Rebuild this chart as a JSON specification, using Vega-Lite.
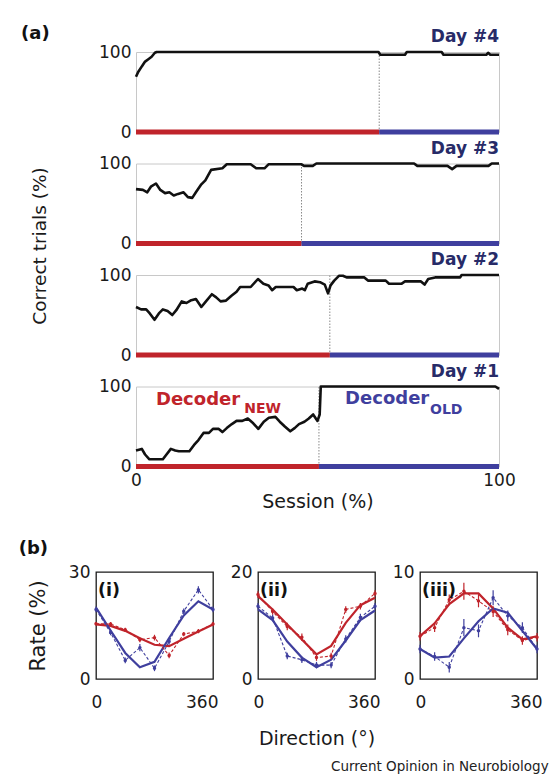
{
"$schema": "https://vega.github.io/schema/vega-lite/v6.json",
"padding": {"left": 18, "top": 24, "right": 0, "bottom": 0},
"background": "white",
"datasets": {
"acc": [
{"day":"Day #4","s":0,"v":69},{"day":"Day #4","s":0.6,"v":75},{"day":"Day #4","s":1.6,"v":82},{"day":"Day #4","s":2.5,"v":88},{"day":"Day #4","s":3.4,"v":91},{"day":"Day #4","s":4.3,"v":94},{"day":"Day #4","s":5.2,"v":99},{"day":"Day #4","s":5.7,"v":100},{"day":"Day #4","s":66.8,"v":100},{"day":"Day #4","s":67.3,"v":96.5},{"day":"Day #4","s":74.1,"v":96.5},{"day":"Day #4","s":74.6,"v":100},{"day":"Day #4","s":84.2,"v":100},{"day":"Day #4","s":84.7,"v":96.5},{"day":"Day #4","s":96.5,"v":96.5},{"day":"Day #4","s":97,"v":99},{"day":"Day #4","s":97.6,"v":96.5},{"day":"Day #4","s":100,"v":96.5},
{"day":"Day #3","s":0,"v":68},{"day":"Day #3","s":1.9,"v":67},{"day":"Day #3","s":3.1,"v":64},{"day":"Day #3","s":4.1,"v":71},{"day":"Day #3","s":5.5,"v":75},{"day":"Day #3","s":6.7,"v":67},{"day":"Day #3","s":8,"v":63},{"day":"Day #3","s":9.2,"v":64},{"day":"Day #3","s":10.4,"v":60},{"day":"Day #3","s":11.6,"v":62},{"day":"Day #3","s":13.1,"v":64},{"day":"Day #3","s":14.3,"v":58},{"day":"Day #3","s":15.5,"v":57},{"day":"Day #3","s":16.5,"v":64},{"day":"Day #3","s":18,"v":74},{"day":"Day #3","s":19.1,"v":79},{"day":"Day #3","s":20.7,"v":92},{"day":"Day #3","s":23.8,"v":94},{"day":"Day #3","s":25,"v":99},{"day":"Day #3","s":31.6,"v":99},{"day":"Day #3","s":33.1,"v":94},{"day":"Day #3","s":35.4,"v":94},{"day":"Day #3","s":36.5,"v":99},{"day":"Day #3","s":45.6,"v":99},{"day":"Day #3","s":46.3,"v":97},{"day":"Day #3","s":48.7,"v":97},{"day":"Day #3","s":49.7,"v":100},{"day":"Day #3","s":76.6,"v":100},{"day":"Day #3","s":77.5,"v":97},{"day":"Day #3","s":85.8,"v":97},{"day":"Day #3","s":87.1,"v":93},{"day":"Day #3","s":88.3,"v":97},{"day":"Day #3","s":97.1,"v":97},{"day":"Day #3","s":98,"v":100},{"day":"Day #3","s":100,"v":100},
{"day":"Day #2","s":0,"v":60},{"day":"Day #2","s":1.4,"v":57},{"day":"Day #2","s":2.8,"v":57},{"day":"Day #2","s":3.8,"v":52},{"day":"Day #2","s":5.1,"v":44},{"day":"Day #2","s":6.3,"v":52},{"day":"Day #2","s":7.4,"v":57},{"day":"Day #2","s":8.7,"v":55},{"day":"Day #2","s":10,"v":50},{"day":"Day #2","s":11.1,"v":56},{"day":"Day #2","s":12.6,"v":67},{"day":"Day #2","s":13.9,"v":65},{"day":"Day #2","s":15,"v":68},{"day":"Day #2","s":16.5,"v":70},{"day":"Day #2","s":18,"v":60},{"day":"Day #2","s":19.1,"v":66},{"day":"Day #2","s":20.9,"v":76},{"day":"Day #2","s":22.1,"v":72},{"day":"Day #2","s":23.3,"v":67},{"day":"Day #2","s":24.8,"v":68},{"day":"Day #2","s":26.3,"v":74},{"day":"Day #2","s":27.7,"v":79},{"day":"Day #2","s":28.7,"v":85},{"day":"Day #2","s":31.6,"v":85},{"day":"Day #2","s":33.6,"v":95},{"day":"Day #2","s":35.1,"v":89},{"day":"Day #2","s":36.5,"v":87},{"day":"Day #2","s":37.5,"v":81},{"day":"Day #2","s":38.5,"v":85},{"day":"Day #2","s":43.4,"v":85},{"day":"Day #2","s":44.3,"v":81},{"day":"Day #2","s":45.8,"v":83},{"day":"Day #2","s":46.5,"v":81},{"day":"Day #2","s":47.3,"v":89},{"day":"Day #2","s":49.2,"v":92},{"day":"Day #2","s":50.7,"v":91},{"day":"Day #2","s":52,"v":88},{"day":"Day #2","s":52.9,"v":77},{"day":"Day #2","s":53.6,"v":87},{"day":"Day #2","s":54.6,"v":93},{"day":"Day #2","s":55.9,"v":99},{"day":"Day #2","s":57,"v":99},{"day":"Day #2","s":58,"v":97},{"day":"Day #2","s":62.9,"v":97},{"day":"Day #2","s":63.9,"v":93},{"day":"Day #2","s":68.8,"v":93},{"day":"Day #2","s":69.7,"v":89},{"day":"Day #2","s":73.1,"v":89},{"day":"Day #2","s":74.1,"v":92},{"day":"Day #2","s":78.5,"v":92},{"day":"Day #2","s":79.5,"v":88},{"day":"Day #2","s":80.5,"v":95},{"day":"Day #2","s":82.4,"v":97},{"day":"Day #2","s":89.3,"v":97},{"day":"Day #2","s":89.7,"v":100},{"day":"Day #2","s":100,"v":100},
{"day":"Day #1","s":0,"v":20},{"day":"Day #1","s":1.6,"v":22},{"day":"Day #1","s":2.5,"v":15},{"day":"Day #1","s":3.7,"v":9},{"day":"Day #1","s":5.5,"v":9},{"day":"Day #1","s":7.4,"v":9},{"day":"Day #1","s":8.4,"v":15},{"day":"Day #1","s":9.6,"v":22},{"day":"Day #1","s":10.8,"v":20},{"day":"Day #1","s":11.8,"v":19},{"day":"Day #1","s":14.7,"v":19},{"day":"Day #1","s":16,"v":27},{"day":"Day #1","s":17.2,"v":33},{"day":"Day #1","s":18.6,"v":42},{"day":"Day #1","s":20.1,"v":42},{"day":"Day #1","s":21.2,"v":47},{"day":"Day #1","s":22.8,"v":47},{"day":"Day #1","s":23.8,"v":43},{"day":"Day #1","s":25,"v":48},{"day":"Day #1","s":26.4,"v":53},{"day":"Day #1","s":27.7,"v":57},{"day":"Day #1","s":29.3,"v":57},{"day":"Day #1","s":30.8,"v":60},{"day":"Day #1","s":32.3,"v":54},{"day":"Day #1","s":33.7,"v":47},{"day":"Day #1","s":35.2,"v":56},{"day":"Day #1","s":36.6,"v":61},{"day":"Day #1","s":38.4,"v":62},{"day":"Day #1","s":39.6,"v":56},{"day":"Day #1","s":41,"v":50},{"day":"Day #1","s":42.5,"v":44},{"day":"Day #1","s":43.7,"v":48},{"day":"Day #1","s":44.9,"v":53},{"day":"Day #1","s":46.4,"v":56},{"day":"Day #1","s":47.6,"v":60},{"day":"Day #1","s":48.8,"v":65},{"day":"Day #1","s":50,"v":57},{"day":"Day #1","s":50.6,"v":65},{"day":"Day #1","s":50.9,"v":100},{"day":"Day #1","s":99,"v":100},{"day":"Day #1","s":100,"v":97}
],
"seg": [
{"day":"Day #4","dec":"NEW","s":0,"s2":67},{"day":"Day #4","dec":"OLD","s":67,"s2":100},
{"day":"Day #3","dec":"NEW","s":0,"s2":45.6},{"day":"Day #3","dec":"OLD","s":45.6,"s2":100},
{"day":"Day #2","dec":"NEW","s":0,"s2":53.4},{"day":"Day #2","dec":"OLD","s":53.4,"s2":100},
{"day":"Day #1","dec":"NEW","s":0,"s2":50.4},{"day":"Day #1","dec":"OLD","s":50.4,"s2":100}
],
"sw": [
{"day":"Day #4","s":67},{"day":"Day #3","s":45.6},{"day":"Day #2","s":53.4},{"day":"Day #1","s":50.4}
],
"lab": [
{"dec":"NEW","word":"Decoder","wx":5.5,"wy":83,"sub":"NEW","sx":29.8,"sy":72},
{"dec":"OLD","word":"Decoder","wx":57.6,"wy":84.5,"sub":"OLD","sx":81,"sy":71}
],
"tune": [
{"panel":"i","kind":"fit","dec":"NEW","dir":0,"rate":15.3},{"panel":"i","kind":"fit","dec":"NEW","dir":45,"rate":14.9},{"panel":"i","kind":"fit","dec":"NEW","dir":90,"rate":13.5},{"panel":"i","kind":"fit","dec":"NEW","dir":135,"rate":11.4},{"panel":"i","kind":"fit","dec":"NEW","dir":180,"rate":9.6},{"panel":"i","kind":"fit","dec":"NEW","dir":225,"rate":9.2},{"panel":"i","kind":"fit","dec":"NEW","dir":270,"rate":11.3},{"panel":"i","kind":"fit","dec":"NEW","dir":315,"rate":13.3},{"panel":"i","kind":"fit","dec":"NEW","dir":360,"rate":15.3},
{"panel":"i","kind":"fit","dec":"OLD","dir":0,"rate":20},{"panel":"i","kind":"fit","dec":"OLD","dir":45,"rate":13.6},{"panel":"i","kind":"fit","dec":"OLD","dir":90,"rate":7.3},{"panel":"i","kind":"fit","dec":"OLD","dir":135,"rate":3.3},{"panel":"i","kind":"fit","dec":"OLD","dir":180,"rate":4.8},{"panel":"i","kind":"fit","dec":"OLD","dir":225,"rate":11.5},{"panel":"i","kind":"fit","dec":"OLD","dir":270,"rate":17.8},{"panel":"i","kind":"fit","dec":"OLD","dir":315,"rate":21.8},{"panel":"i","kind":"fit","dec":"OLD","dir":360,"rate":19.5},
{"panel":"i","kind":"data","dec":"NEW","dir":0,"rate":15.5,"lo":15,"hi":16},{"panel":"i","kind":"data","dec":"NEW","dir":45,"rate":15.4,"lo":14.8,"hi":16},{"panel":"i","kind":"data","dec":"NEW","dir":90,"rate":13.8,"lo":13.2,"hi":14.4},{"panel":"i","kind":"data","dec":"NEW","dir":135,"rate":11,"lo":10.3,"hi":11.7},{"panel":"i","kind":"data","dec":"NEW","dir":180,"rate":11.6,"lo":10.8,"hi":12.4},{"panel":"i","kind":"data","dec":"NEW","dir":225,"rate":6.6,"lo":5.8,"hi":7.4},{"panel":"i","kind":"data","dec":"NEW","dir":270,"rate":12.6,"lo":12,"hi":13.2},{"panel":"i","kind":"data","dec":"NEW","dir":315,"rate":13.4,"lo":12.8,"hi":14},{"panel":"i","kind":"data","dec":"NEW","dir":360,"rate":15.4,"lo":14.8,"hi":16},
{"panel":"i","kind":"data","dec":"OLD","dir":0,"rate":19.5,"lo":18.7,"hi":20.3},{"panel":"i","kind":"data","dec":"OLD","dir":45,"rate":13,"lo":12.3,"hi":13.7},{"panel":"i","kind":"data","dec":"OLD","dir":90,"rate":5.2,"lo":4.4,"hi":6},{"panel":"i","kind":"data","dec":"OLD","dir":135,"rate":8.8,"lo":7.8,"hi":9.8},{"panel":"i","kind":"data","dec":"OLD","dir":180,"rate":3,"lo":2.2,"hi":3.8},{"panel":"i","kind":"data","dec":"OLD","dir":225,"rate":10.5,"lo":9.6,"hi":11.4},{"panel":"i","kind":"data","dec":"OLD","dir":270,"rate":19,"lo":18.2,"hi":19.8},{"panel":"i","kind":"data","dec":"OLD","dir":315,"rate":25,"lo":24,"hi":26},{"panel":"i","kind":"data","dec":"OLD","dir":360,"rate":19.5,"lo":18.7,"hi":20.3},
{"panel":"ii","kind":"fit","dec":"NEW","dir":0,"rate":15.5},{"panel":"ii","kind":"fit","dec":"NEW","dir":45,"rate":13},{"panel":"ii","kind":"fit","dec":"NEW","dir":90,"rate":10.2},{"panel":"ii","kind":"fit","dec":"NEW","dir":135,"rate":7.4},{"panel":"ii","kind":"fit","dec":"NEW","dir":180,"rate":4.6},{"panel":"ii","kind":"fit","dec":"NEW","dir":225,"rate":6.2},{"panel":"ii","kind":"fit","dec":"NEW","dir":270,"rate":10.5},{"panel":"ii","kind":"fit","dec":"NEW","dir":315,"rate":13.8},{"panel":"ii","kind":"fit","dec":"NEW","dir":360,"rate":15.2},
{"panel":"ii","kind":"fit","dec":"OLD","dir":0,"rate":13},{"panel":"ii","kind":"fit","dec":"OLD","dir":45,"rate":11},{"panel":"ii","kind":"fit","dec":"OLD","dir":90,"rate":7},{"panel":"ii","kind":"fit","dec":"OLD","dir":135,"rate":4},{"panel":"ii","kind":"fit","dec":"OLD","dir":180,"rate":2.2},{"panel":"ii","kind":"fit","dec":"OLD","dir":225,"rate":3.6},{"panel":"ii","kind":"fit","dec":"OLD","dir":270,"rate":7.2},{"panel":"ii","kind":"fit","dec":"OLD","dir":315,"rate":11},{"panel":"ii","kind":"fit","dec":"OLD","dir":360,"rate":12.8},
{"panel":"ii","kind":"data","dec":"NEW","dir":0,"rate":15.8,"lo":15.2,"hi":16.4},{"panel":"ii","kind":"data","dec":"NEW","dir":45,"rate":12.6,"lo":12,"hi":13.2},{"panel":"ii","kind":"data","dec":"NEW","dir":90,"rate":9.8,"lo":9.1,"hi":10.5},{"panel":"ii","kind":"data","dec":"NEW","dir":135,"rate":7.8,"lo":7.1,"hi":8.5},{"panel":"ii","kind":"data","dec":"NEW","dir":180,"rate":4,"lo":3.4,"hi":4.6},{"panel":"ii","kind":"data","dec":"NEW","dir":225,"rate":4.3,"lo":3.7,"hi":4.9},{"panel":"ii","kind":"data","dec":"NEW","dir":270,"rate":13,"lo":12.4,"hi":13.6},{"panel":"ii","kind":"data","dec":"NEW","dir":315,"rate":13.6,"lo":13,"hi":14.2},{"panel":"ii","kind":"data","dec":"NEW","dir":360,"rate":16,"lo":15.4,"hi":16.6},
{"panel":"ii","kind":"data","dec":"OLD","dir":0,"rate":13.6,"lo":13,"hi":14.2},{"panel":"ii","kind":"data","dec":"OLD","dir":45,"rate":11.4,"lo":10.8,"hi":12},{"panel":"ii","kind":"data","dec":"OLD","dir":90,"rate":4.3,"lo":3.7,"hi":4.9},{"panel":"ii","kind":"data","dec":"OLD","dir":135,"rate":3.6,"lo":3,"hi":4.2},{"panel":"ii","kind":"data","dec":"OLD","dir":180,"rate":2.6,"lo":2,"hi":3.2},{"panel":"ii","kind":"data","dec":"OLD","dir":225,"rate":2.6,"lo":2,"hi":3.2},{"panel":"ii","kind":"data","dec":"OLD","dir":270,"rate":7.5,"lo":6.8,"hi":8.2},{"panel":"ii","kind":"data","dec":"OLD","dir":315,"rate":11.5,"lo":10.8,"hi":12.2},{"panel":"ii","kind":"data","dec":"OLD","dir":360,"rate":13.6,"lo":13,"hi":14.2},
{"panel":"iii","kind":"fit","dec":"NEW","dir":0,"rate":4},{"panel":"iii","kind":"fit","dec":"NEW","dir":45,"rate":5.2},{"panel":"iii","kind":"fit","dec":"NEW","dir":90,"rate":7},{"panel":"iii","kind":"fit","dec":"NEW","dir":135,"rate":8},{"panel":"iii","kind":"fit","dec":"NEW","dir":180,"rate":8},{"panel":"iii","kind":"fit","dec":"NEW","dir":225,"rate":6.6},{"panel":"iii","kind":"fit","dec":"NEW","dir":270,"rate":4.8},{"panel":"iii","kind":"fit","dec":"NEW","dir":315,"rate":3.7},{"panel":"iii","kind":"fit","dec":"NEW","dir":360,"rate":4},
{"panel":"iii","kind":"fit","dec":"OLD","dir":0,"rate":2.8},{"panel":"iii","kind":"fit","dec":"OLD","dir":45,"rate":2},{"panel":"iii","kind":"fit","dec":"OLD","dir":90,"rate":2.1},{"panel":"iii","kind":"fit","dec":"OLD","dir":135,"rate":3.8},{"panel":"iii","kind":"fit","dec":"OLD","dir":180,"rate":5.4},{"panel":"iii","kind":"fit","dec":"OLD","dir":225,"rate":6.6},{"panel":"iii","kind":"fit","dec":"OLD","dir":270,"rate":6.2},{"panel":"iii","kind":"fit","dec":"OLD","dir":315,"rate":4.5},{"panel":"iii","kind":"fit","dec":"OLD","dir":360,"rate":2.8},
{"panel":"iii","kind":"data","dec":"NEW","dir":0,"rate":4,"lo":3.6,"hi":4.4},{"panel":"iii","kind":"data","dec":"NEW","dir":45,"rate":4.8,"lo":4.4,"hi":5.2},{"panel":"iii","kind":"data","dec":"NEW","dir":90,"rate":7.4,"lo":6.9,"hi":7.9},{"panel":"iii","kind":"data","dec":"NEW","dir":135,"rate":8.2,"lo":7.4,"hi":9},{"panel":"iii","kind":"data","dec":"NEW","dir":180,"rate":7.3,"lo":6.7,"hi":7.9},{"panel":"iii","kind":"data","dec":"NEW","dir":225,"rate":6.3,"lo":5.8,"hi":6.8},{"panel":"iii","kind":"data","dec":"NEW","dir":270,"rate":4.6,"lo":4.1,"hi":5.1},{"panel":"iii","kind":"data","dec":"NEW","dir":315,"rate":3.6,"lo":3.2,"hi":4},{"panel":"iii","kind":"data","dec":"NEW","dir":360,"rate":3.9,"lo":3.5,"hi":4.3},
{"panel":"iii","kind":"data","dec":"OLD","dir":0,"rate":2.8,"lo":2.4,"hi":3.2},{"panel":"iii","kind":"data","dec":"OLD","dir":45,"rate":2.1,"lo":1.7,"hi":2.5},{"panel":"iii","kind":"data","dec":"OLD","dir":90,"rate":1.1,"lo":0.6,"hi":1.6},{"panel":"iii","kind":"data","dec":"OLD","dir":135,"rate":4.8,"lo":4,"hi":5.6},{"panel":"iii","kind":"data","dec":"OLD","dir":180,"rate":4.5,"lo":3.9,"hi":5.1},{"panel":"iii","kind":"data","dec":"OLD","dir":225,"rate":7.6,"lo":6.9,"hi":8.3},{"panel":"iii","kind":"data","dec":"OLD","dir":270,"rate":5.9,"lo":5.4,"hi":6.4},{"panel":"iii","kind":"data","dec":"OLD","dir":315,"rate":4.8,"lo":4.3,"hi":5.3},{"panel":"iii","kind":"data","dec":"OLD","dir":360,"rate":2.8,"lo":2.4,"hi":3.2}
]
},
"title": {"text": "Current Opinion in Neurobiology", "orient": "bottom", "anchor": "end", "frame": "bounds", "fontSize": 13.5, "fontWeight": "normal", "color": "#222222", "offset": 11, "dx": 6},
"spacing": 28,
"vconcat": [
{
"bounds": "flush",
"spacing": 39,
"hconcat": [
{"width": 1, "height": 1, "view": {"stroke": null}, "data": {"values": []}, "mark": "point", "encoding": {}},
{
"title": {"text": "(a)", "anchor": "start", "frame": "bounds", "fontSize": 18, "color": "#111111", "offset": -15, "dx": -9},
"bounds": "flush",
"spacing": 31.5,
"vconcat": [
{
"width": 363, "height": 80,
"title": {"text": "Day #4", "anchor": "end", "frame": "group", "fontSize": 17, "color": "#272b68", "offset": -3},
"layer": [
{"data": {"name": "sw"}, "transform": [{"filter": "datum.day === 'Day #4'"}], "mark": {"type": "rule", "strokeDash": [1.5, 1.5], "strokeWidth": 1, "color": "#8a8a8a"},
 "encoding": {"x": {"field": "s", "type": "quantitative", "scale": {"domain": [0, 100], "nice": false}, "axis": null},
  "y": {"datum": 0, "type": "quantitative", "scale": {"domain": [0, 100], "nice": false}, "axis": {"values": [0, 100], "title": null, "labelPadding": 5}},
  "y2": {"datum": 100}}},
{"data": {"name": "acc"}, "transform": [{"filter": "datum.day === 'Day #4'"}], "mark": {"type": "line", "color": "#111111", "strokeWidth": 2.6, "strokeJoin": "round"},
 "encoding": {"x": {"field": "s", "type": "quantitative", "axis": null}, "y": {"field": "v", "type": "quantitative", "title": null}}},
{"data": {"name": "seg"}, "transform": [{"filter": "datum.day === 'Day #4'"}], "mark": {"type": "rule", "strokeWidth": 5, "strokeCap": "butt"},
 "encoding": {"x": {"field": "s", "type": "quantitative", "axis": null}, "x2": {"field": "s2"}, "y": {"datum": 0, "type": "quantitative", "title": null},
  "color": {"field": "dec", "type": "nominal", "scale": {"domain": ["NEW", "OLD"], "range": ["#c0242b", "#3f3f9e"]}, "legend": null}}}
]
},
{
"width": 363, "height": 80,
"title": {"text": "Day #3", "anchor": "end", "frame": "group", "fontSize": 17, "color": "#272b68", "offset": -3},
"layer": [
{"data": {"name": "sw"}, "transform": [{"filter": "datum.day === 'Day #3'"}], "mark": {"type": "rule", "strokeDash": [1.5, 1.5], "strokeWidth": 1, "color": "#8a8a8a"},
 "encoding": {"x": {"field": "s", "type": "quantitative", "scale": {"domain": [0, 100], "nice": false}, "axis": null},
  "y": {"datum": 0, "type": "quantitative", "scale": {"domain": [0, 100], "nice": false}, "title": "Correct trials (%)", "axis": {"values": [0, 100], "labelPadding": 5, "titleFontSize": 18.5, "titlePadding": 49, "titleY": 82}},
  "y2": {"datum": 100}}},
{"data": {"name": "acc"}, "transform": [{"filter": "datum.day === 'Day #3'"}], "mark": {"type": "line", "color": "#111111", "strokeWidth": 2.6, "strokeJoin": "round"},
 "encoding": {"x": {"field": "s", "type": "quantitative", "axis": null}, "y": {"field": "v", "type": "quantitative", "title": "Correct trials (%)"}}},
{"data": {"name": "seg"}, "transform": [{"filter": "datum.day === 'Day #3'"}], "mark": {"type": "rule", "strokeWidth": 5, "strokeCap": "butt"},
 "encoding": {"x": {"field": "s", "type": "quantitative", "axis": null}, "x2": {"field": "s2"}, "y": {"datum": 0, "type": "quantitative", "title": "Correct trials (%)"},
  "color": {"field": "dec", "type": "nominal", "scale": {"domain": ["NEW", "OLD"], "range": ["#c0242b", "#3f3f9e"]}, "legend": null}}}
]
},
{
"width": 363, "height": 80,
"title": {"text": "Day #2", "anchor": "end", "frame": "group", "fontSize": 17, "color": "#272b68", "offset": -3},
"layer": [
{"data": {"name": "sw"}, "transform": [{"filter": "datum.day === 'Day #2'"}], "mark": {"type": "rule", "strokeDash": [1.5, 1.5], "strokeWidth": 1, "color": "#8a8a8a"},
 "encoding": {"x": {"field": "s", "type": "quantitative", "scale": {"domain": [0, 100], "nice": false}, "axis": null},
  "y": {"datum": 0, "type": "quantitative", "scale": {"domain": [0, 100], "nice": false}, "axis": {"values": [0, 100], "title": null, "labelPadding": 5}},
  "y2": {"datum": 100}}},
{"data": {"name": "acc"}, "transform": [{"filter": "datum.day === 'Day #2'"}], "mark": {"type": "line", "color": "#111111", "strokeWidth": 2.6, "strokeJoin": "round"},
 "encoding": {"x": {"field": "s", "type": "quantitative", "axis": null}, "y": {"field": "v", "type": "quantitative", "title": null}}},
{"data": {"name": "seg"}, "transform": [{"filter": "datum.day === 'Day #2'"}], "mark": {"type": "rule", "strokeWidth": 5, "strokeCap": "butt"},
 "encoding": {"x": {"field": "s", "type": "quantitative", "axis": null}, "x2": {"field": "s2"}, "y": {"datum": 0, "type": "quantitative", "title": null},
  "color": {"field": "dec", "type": "nominal", "scale": {"domain": ["NEW", "OLD"], "range": ["#c0242b", "#3f3f9e"]}, "legend": null}}}
]
},
{
"width": 363, "height": 80,
"title": {"text": "Day #1", "anchor": "end", "frame": "group", "fontSize": 17, "color": "#272b68", "offset": -3},
"layer": [
{"data": {"name": "sw"}, "transform": [{"filter": "datum.day === 'Day #1'"}], "mark": {"type": "rule", "strokeDash": [1.5, 1.5], "strokeWidth": 1, "color": "#8a8a8a"},
 "encoding": {"x": {"field": "s", "type": "quantitative", "scale": {"domain": [0, 100], "nice": false}, "title": "Session (%)", "axis": {"values": [0, 100], "labelPadding": 6, "titlePadding": 4, "titleFontSize": 19}},
  "y": {"datum": 0, "type": "quantitative", "scale": {"domain": [0, 100], "nice": false}, "axis": {"values": [0, 100], "title": null, "labelPadding": 5}},
  "y2": {"datum": 100}}},
{"data": {"name": "acc"}, "transform": [{"filter": "datum.day === 'Day #1'"}], "mark": {"type": "line", "color": "#111111", "strokeWidth": 2.6, "strokeJoin": "round"},
 "encoding": {"x": {"field": "s", "type": "quantitative", "title": "Session (%)"}, "y": {"field": "v", "type": "quantitative", "title": null}}},
{"data": {"name": "seg"}, "transform": [{"filter": "datum.day === 'Day #1'"}], "mark": {"type": "rule", "strokeWidth": 5, "strokeCap": "butt"},
 "encoding": {"x": {"field": "s", "type": "quantitative", "title": "Session (%)"}, "x2": {"field": "s2"}, "y": {"datum": 0, "type": "quantitative", "title": null},
  "color": {"field": "dec", "type": "nominal", "scale": {"domain": ["NEW", "OLD"], "range": ["#c0242b", "#3f3f9e"]}, "legend": null}}},
{"data": {"name": "lab"}, "mark": {"type": "text", "fontSize": 18, "fontWeight": "bold", "align": "left", "baseline": "middle"},
 "encoding": {"x": {"field": "wx", "type": "quantitative", "title": "Session (%)"}, "y": {"field": "wy", "type": "quantitative", "title": null}, "text": {"field": "word"},
  "color": {"field": "dec", "type": "nominal", "legend": null}}},
{"data": {"name": "lab"}, "mark": {"type": "text", "fontSize": 14, "fontWeight": "bold", "align": "left", "baseline": "middle"},
 "encoding": {"x": {"field": "sx", "type": "quantitative", "title": "Session (%)"}, "y": {"field": "sy", "type": "quantitative", "title": null}, "text": {"field": "sub"},
  "color": {"field": "dec", "type": "nominal", "legend": null}}}
]
}
]
}
]
},
{
"title": {"text": "(b)", "anchor": "start", "frame": "bounds", "fontSize": 18, "color": "#111111", "offset": 4, "dx": -8},
"bounds": "flush",
"spacing": 45,
"hconcat": [
{
"width": 117, "height": 107,
"view": {"stroke": "#1a1a1a", "strokeWidth": 1.3},
"title": {"text": "(i)", "anchor": "start", "frame": "group", "fontSize": 17.5, "color": "#111111", "offset": -36, "dx": 2},
"layer": [
{"data": {"name": "tune"}, "transform": [{"filter": "datum.panel === 'i' && datum.kind === 'fit'"}], "mark": {"type": "line", "strokeWidth": 2.2},
 "encoding": {"x": {"field": "dir", "type": "quantitative", "scale": {"domain": [0, 360], "nice": false}, "title": null, "axis": {"values": [0, 360], "labelPadding": 15, "labelFlush": true, "labelFlushOffset": 5}},
  "y": {"field": "rate", "type": "quantitative", "scale": {"domain": [0, 30], "nice": false}, "title": "Rate (%)", "axis": {"values": [0, 30], "titleFontSize": 21, "titlePadding": 20, "labelPadding": 6}},
  "color": {"field": "dec", "type": "nominal", "scale": {"domain": ["NEW", "OLD"], "range": ["#c0242b", "#3f3f9e"]}, "legend": null}}},
{"data": {"name": "tune"}, "transform": [{"filter": "datum.panel === 'i' && datum.kind === 'data'"}], "mark": {"type": "line", "strokeWidth": 1.1, "strokeDash": [3, 2], "point": {"filled": true, "size": 12}},
 "encoding": {"x": {"field": "dir", "type": "quantitative", "title": null}, "y": {"field": "rate", "type": "quantitative", "title": "Rate (%)"}, "color": {"field": "dec", "type": "nominal", "legend": null}}},
{"data": {"name": "tune"}, "transform": [{"filter": "datum.panel === 'i' && datum.kind === 'data'"}], "mark": {"type": "rule", "strokeWidth": 1.2},
 "encoding": {"x": {"field": "dir", "type": "quantitative", "title": null}, "y": {"field": "lo", "type": "quantitative", "title": "Rate (%)"}, "y2": {"field": "hi"}, "color": {"field": "dec", "type": "nominal", "legend": null}}}
]
},
{
"width": 117, "height": 107,
"view": {"stroke": "#1a1a1a", "strokeWidth": 1.3},
"title": {"text": "(ii)", "anchor": "start", "frame": "group", "fontSize": 17.5, "color": "#111111", "offset": -36, "dx": 2},
"layer": [
{"data": {"name": "tune"}, "transform": [{"filter": "datum.panel === 'ii' && datum.kind === 'fit'"}], "mark": {"type": "line", "strokeWidth": 2.2},
 "encoding": {"x": {"field": "dir", "type": "quantitative", "scale": {"domain": [0, 360], "nice": false}, "title": "Direction (°)", "axis": {"values": [0, 360], "titleFontSize": 19, "titlePadding": 19, "labelPadding": 15, "labelFlush": true, "labelFlushOffset": 5}},
  "y": {"field": "rate", "type": "quantitative", "scale": {"domain": [0, 20], "nice": false}, "title": null, "axis": {"values": [0, 20], "labelPadding": 6}},
  "color": {"field": "dec", "type": "nominal", "scale": {"domain": ["NEW", "OLD"], "range": ["#c0242b", "#3f3f9e"]}, "legend": null}}},
{"data": {"name": "tune"}, "transform": [{"filter": "datum.panel === 'ii' && datum.kind === 'data'"}], "mark": {"type": "line", "strokeWidth": 1.1, "strokeDash": [3, 2], "point": {"filled": true, "size": 12}},
 "encoding": {"x": {"field": "dir", "type": "quantitative", "title": "Direction (°)"}, "y": {"field": "rate", "type": "quantitative", "title": null}, "color": {"field": "dec", "type": "nominal", "legend": null}}},
{"data": {"name": "tune"}, "transform": [{"filter": "datum.panel === 'ii' && datum.kind === 'data'"}], "mark": {"type": "rule", "strokeWidth": 1.2},
 "encoding": {"x": {"field": "dir", "type": "quantitative", "title": "Direction (°)"}, "y": {"field": "lo", "type": "quantitative", "title": null}, "y2": {"field": "hi"}, "color": {"field": "dec", "type": "nominal", "legend": null}}}
]
},
{
"width": 117, "height": 107,
"view": {"stroke": "#1a1a1a", "strokeWidth": 1.3},
"title": {"text": "(iii)", "anchor": "start", "frame": "group", "fontSize": 17.5, "color": "#111111", "offset": -36, "dx": 2},
"layer": [
{"data": {"name": "tune"}, "transform": [{"filter": "datum.panel === 'iii' && datum.kind === 'fit'"}], "mark": {"type": "line", "strokeWidth": 2.2},
 "encoding": {"x": {"field": "dir", "type": "quantitative", "scale": {"domain": [0, 360], "nice": false}, "title": null, "axis": {"values": [0, 360], "labelPadding": 15, "labelFlush": true, "labelFlushOffset": 5}},
  "y": {"field": "rate", "type": "quantitative", "scale": {"domain": [0, 10], "nice": false}, "title": null, "axis": {"values": [0, 10], "labelPadding": 6}},
  "color": {"field": "dec", "type": "nominal", "scale": {"domain": ["NEW", "OLD"], "range": ["#c0242b", "#3f3f9e"]}, "legend": null}}},
{"data": {"name": "tune"}, "transform": [{"filter": "datum.panel === 'iii' && datum.kind === 'data'"}], "mark": {"type": "line", "strokeWidth": 1.1, "strokeDash": [3, 2], "point": {"filled": true, "size": 12}},
 "encoding": {"x": {"field": "dir", "type": "quantitative", "title": null}, "y": {"field": "rate", "type": "quantitative", "title": null}, "color": {"field": "dec", "type": "nominal", "legend": null}}},
{"data": {"name": "tune"}, "transform": [{"filter": "datum.panel === 'iii' && datum.kind === 'data'"}], "mark": {"type": "rule", "strokeWidth": 1.2},
 "encoding": {"x": {"field": "dir", "type": "quantitative", "title": null}, "y": {"field": "lo", "type": "quantitative", "title": null}, "y2": {"field": "hi"}, "color": {"field": "dec", "type": "nominal", "legend": null}}}
]
}
]
}
],
"config": {
"font": "DejaVu Sans",
"view": {"stroke": "#c8c8c8", "strokeWidth": 1},
"axis": {"domain": false, "ticks": false, "grid": false, "labelFont": "DejaVu Sans", "labelFontSize": 17, "labelColor": "#1a1a1a", "labelFlush": false, "labelOverlap": false, "titleFont": "DejaVu Sans", "titleFontWeight": "normal", "titleColor": "#1a1a1a"},
"title": {"font": "DejaVu Sans", "fontWeight": "bold"}
}
}
